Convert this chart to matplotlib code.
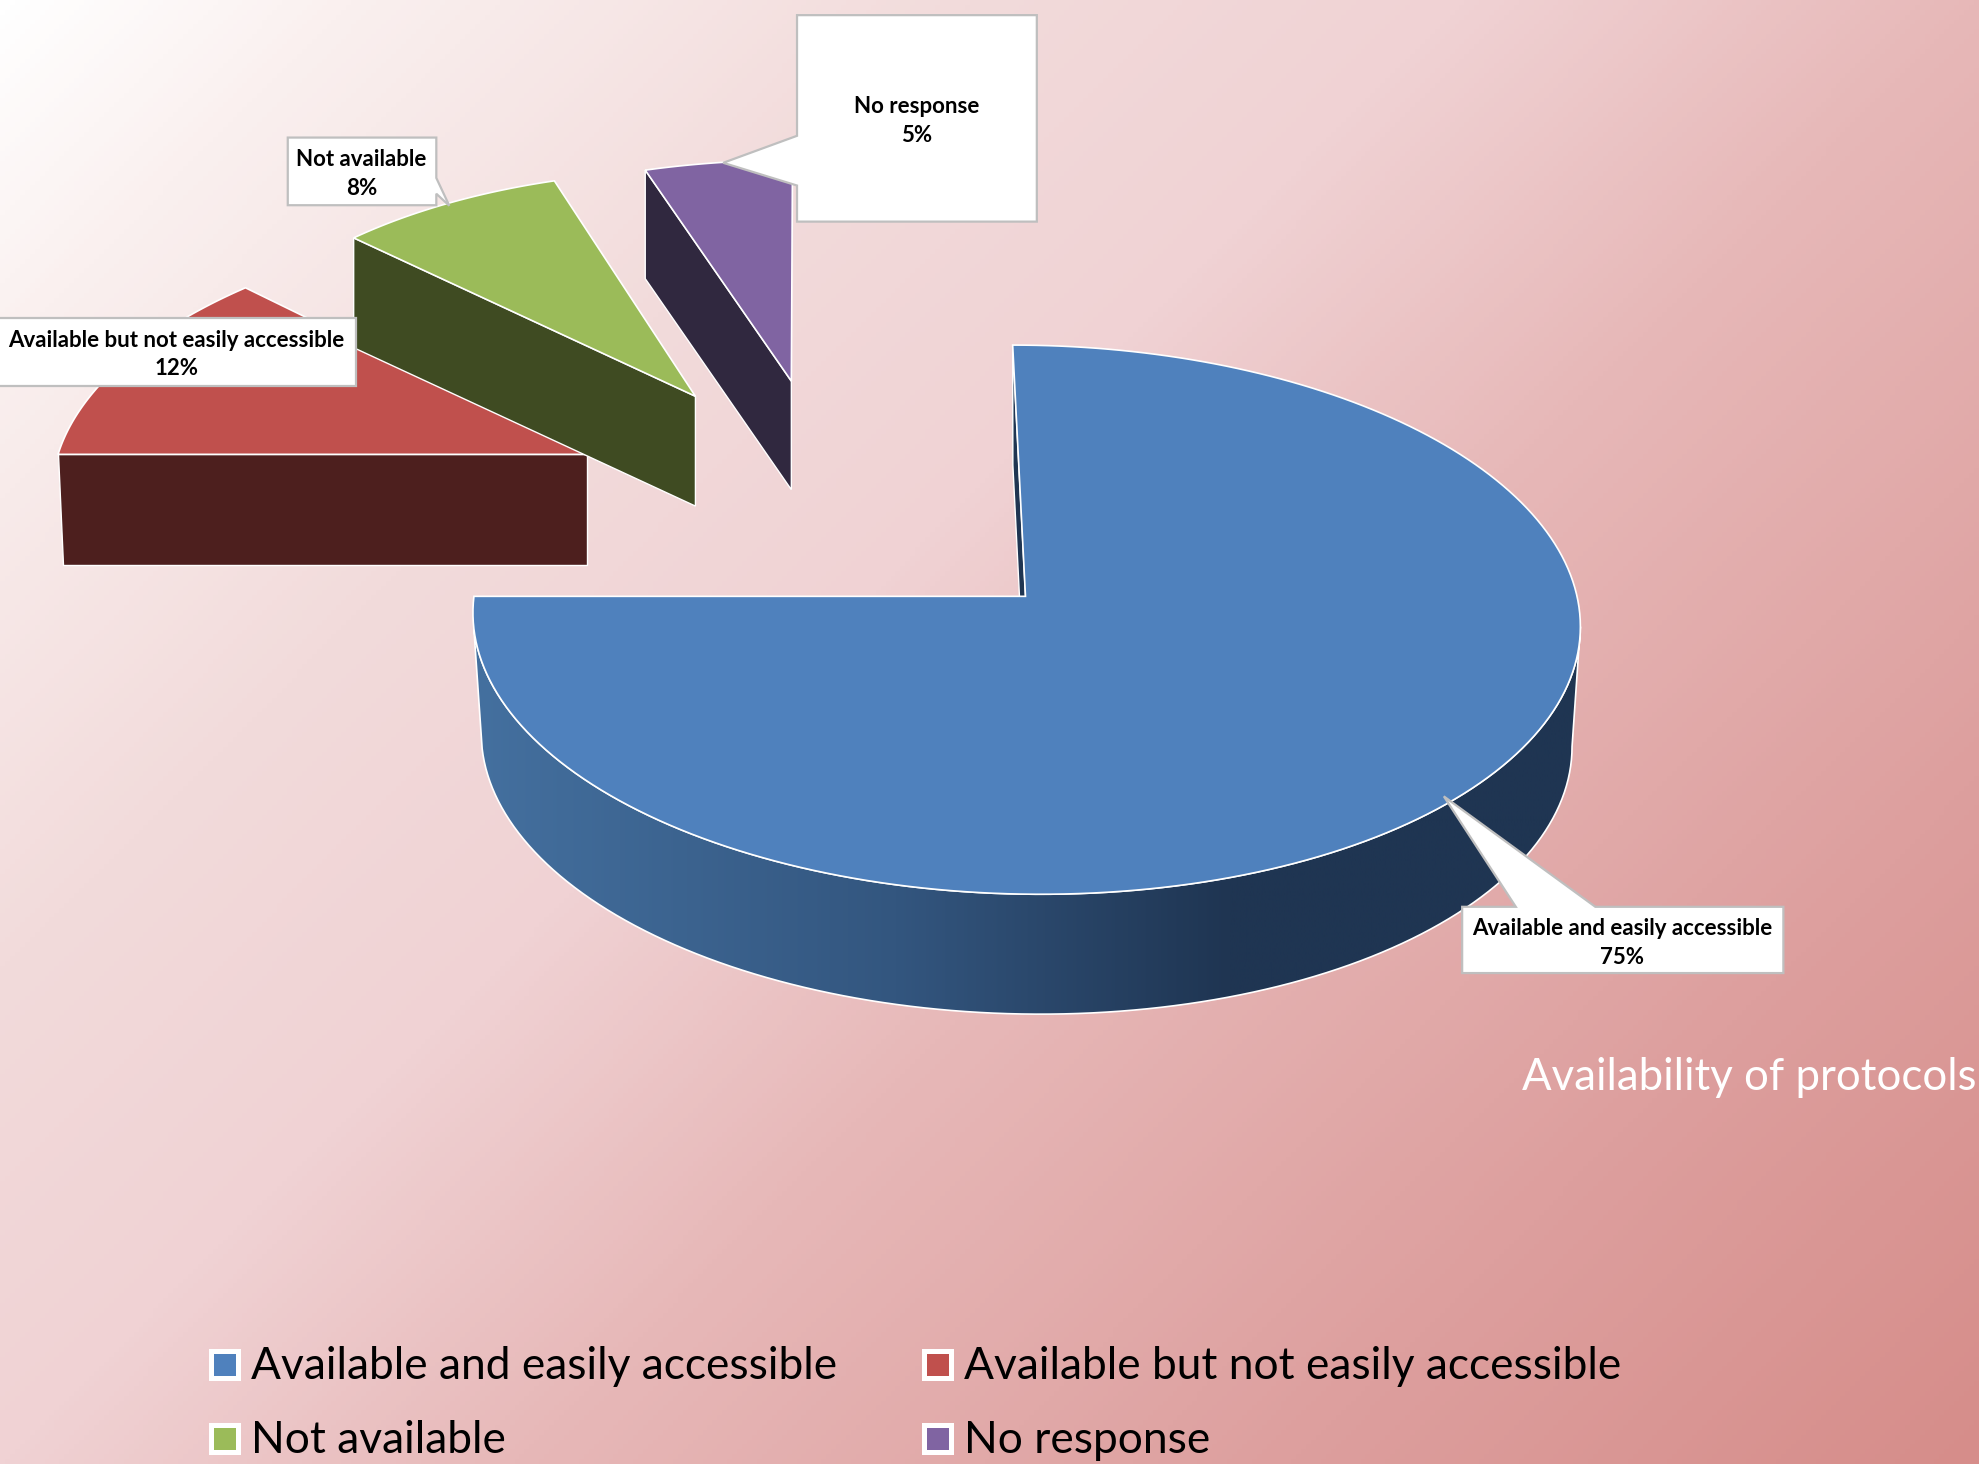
import numpy as np
import matplotlib
matplotlib.use('Agg')
import matplotlib.pyplot as plt
from matplotlib.colors import LinearSegmentedColormap
from matplotlib.patches import Polygon, Rectangle

plt.rcParams['font.family'] = ['Lato', 'DejaVu Sans']

# data
labels = ['Available and easily accessible', 'Available but not easily accessible',
          'Not available', 'No response']
values = [75, 12, 8, 5]
top_colors = ['#4F81BD', '#C0504D', '#9BBB59', '#8064A2']
side_colors = ['#1F3552', '#4D1F1E', '#3F4B22', '#30283F']

# pixel layout of the picture at 1568 wide
W, H = 1568, 1160
# apex x, apex y, radius x, radius y, skew, wall depth, wall shrink
slice_geo = [(812.5, 472.5, 437, 216, -11, 95, 0.985),
             (465, 360, 419, 204, 28, 88, 0.99),
             (551, 314, 394, 194, 1, 87, 1.0),
             (627, 302, 408, 190, 1, 86, 1.0)]
PERSP = 0.085

# callout outlines
callouts = [
    [(1158.5, 718.5), (1201, 718.5), (1144, 631), (1264, 718.5), (1413, 718.5), (1413, 771), (1158.5, 771)],
    [(-3, 252), (282, 252), (282, 305.5), (-3, 305.5)],
    [(228, 109), (345.7, 109), (345.7, 141), (356, 163), (345.7, 153.5), (345.7, 162.6), (228, 162.6)],
    [(631.5, 12), (821.5, 12), (821.5, 175.6), (631.5, 175.6), (631.5, 147), (573, 129), (631.5, 107.6)],
]
callout_text_xy = [(1285.5, 747), (140, 281), (286.5, 138), (726, 96)]

legend_xy = [(165.6, 1069), (730.6, 1069), (165.6, 1127.6), (730.6, 1127.6)]


def rim(theta, geo):
    cx, cy, a, b, s = geo[:5]
    X, Y = np.sin(theta), np.cos(theta)
    den = 1 + PERSP * Y
    return cx + (a * X + s * Y) / den, cy - b * Y / den


def wall(xy, geo):
    x, y = xy
    return geo[0] + (x - geo[0]) * geo[6], y + geo[5]


fig = plt.figure(figsize=(19.79, 14.64), dpi=100)
ax = fig.add_axes([0, 0, 1, 1])

# background gradient, running at 45 degrees in pixels
bg = LinearSegmentedColormap.from_list('bg', [(0, '#FFFFFF'), (0.1, '#FAF0EF'), (0.28, '#F2DBDB'), (0.425, '#F0D2D4'),
                                              (0.575, '#E7B8B8'), (0.8, '#DD9F9E'), (1, '#D68D8A')])
yy, xx = np.mgrid[0:H:300j, 0:W:400j]
ax.imshow((xx + yy) / (W + H), extent=(0, W, H, 0), cmap=bg, vmin=0, vmax=1, aspect='auto', zorder=0)

fractions = np.cumsum([0] + values) / sum(values)
z = 1
for i, geo in enumerate(slice_geo):
    t0, t1 = fractions[i] * 2 * np.pi, fractions[i + 1] * 2 * np.pi
    theta = np.linspace(t0, t1, 200)
    rx, ry = rim(theta, geo)
    ax_, ay_ = geo[0], geo[1]
    bx, by = wall((rx, ry), geo)
    abx, aby = wall((ax_, ay_), geo)

    if i == 0:
        # outer wall with the shaded sweep, then the thin inner wall at 12 o'clock
        vis = (theta > np.radians(96)) & (theta < np.radians(264))
        outer = np.column_stack([np.r_[rx[vis], bx[vis][::-1]], np.r_[ry[vis], by[vis][::-1]]])
        sweep = LinearSegmentedColormap.from_list('sweep', [(0, '#44709F'), (0.38, '#33567F'), (0.68, '#1F3552'), (1, '#1F3552')])
        im = ax.imshow(np.linspace(0, 1, 400)[None, :], extent=(375, 1255, 820, 480), cmap=sweep,
                       aspect='auto', zorder=z)
        patch = Polygon(outer, closed=True, transform=ax.transData, fill=False, edgecolor='white', lw=1.2, zorder=z + 0.1)
        ax.add_patch(patch)
        im.set_clip_path(patch)
        inner = [(ax_, ay_), (rx[0], ry[0]), (bx[0], by[0]), (abx, aby)]
        ax.add_patch(Polygon(inner, closed=True, facecolor=side_colors[0], edgecolor='white', lw=1.0, zorder=z + 0.2))
    else:
        # the wall shows on the cut edge that faces the viewer
        front = [(rx[0], ry[0]), (ax_, ay_), (abx, aby), (bx[0], by[0])]
        ax.add_patch(Polygon(front, closed=True, facecolor=side_colors[i], edgecolor='white', lw=1.0, zorder=z + 0.2))

    top = np.column_stack([np.r_[ax_, rx], np.r_[ay_, ry]])
    ax.add_patch(Polygon(top, closed=True, facecolor=top_colors[i], edgecolor='white', lw=1.2, zorder=z + 0.3))
    z += 1

# callouts
for i, outline in enumerate(callouts):
    ax.add_patch(Polygon(outline, closed=True, facecolor='white', edgecolor='#BFBFBF', lw=1.6, zorder=10))
    ax.text(callout_text_xy[i][0], callout_text_xy[i][1], f'{labels[i]}\n{values[i]}%', ha='center', va='center',
            fontsize=16, fontweight='bold', color='black', linespacing=1.45, zorder=11)

# title-like caption on the right
ax.text(1206, 854, 'Availability of protocols', ha='left', va='center', fontsize=31.5, color='white', zorder=11)

# legend
for i, (lx, ly) in enumerate(legend_xy):
    ax.add_patch(Rectangle((lx, ly), 25, 25, facecolor='white', edgecolor='none', zorder=11))
    ax.add_patch(Rectangle((lx + 4, ly + 4), 17.5, 17, facecolor=top_colors[i], edgecolor='none', zorder=12))
    ax.text(lx + 33.5, ly + 14, labels[i], ha='left', va='center', fontsize=31.9, color='black', zorder=12)

ax.set_xlim(0, W)
ax.set_ylim(H, 0)
ax.axis('off')
fig.savefig('out.png', dpi=100)
